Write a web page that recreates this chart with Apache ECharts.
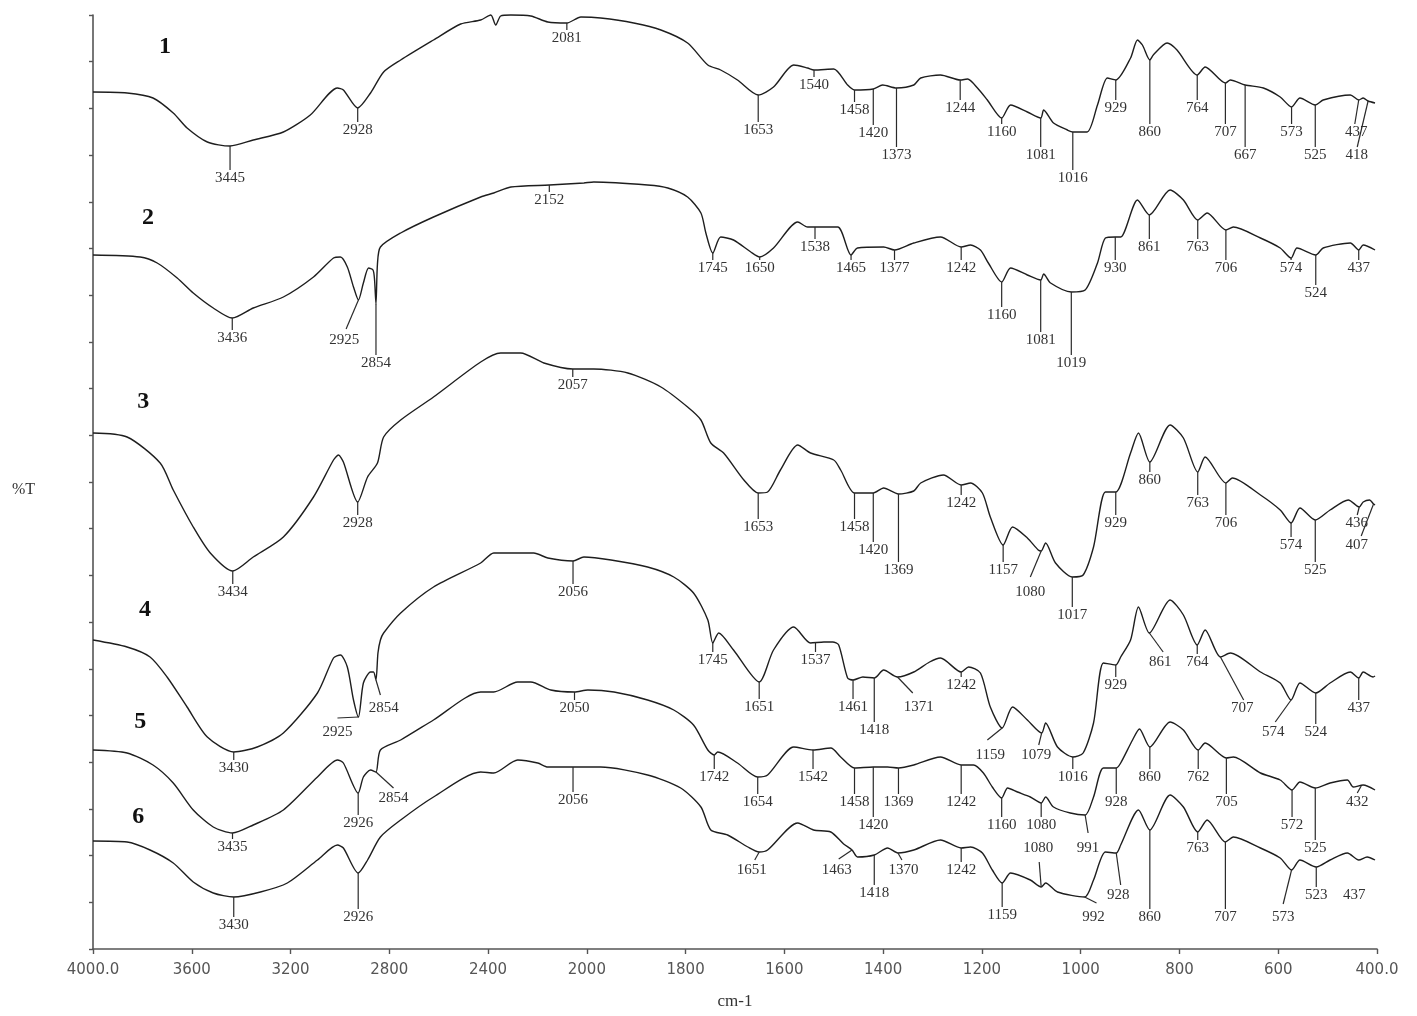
<!DOCTYPE html>
<html><head><meta charset="utf-8">
<script src="https://cdn.jsdelivr.net/npm/echarts@6/dist/echarts.min.js"></script>
<style>html,body{margin:0;padding:0;background:#fff}#c{width:1417px;height:1016px}</style>
</head><body><div id="c"></div>
<script>
// x tick labels (axis uses a scale change at 2000 cm-1)
const xTickLabels = ['4000.0','3600','3200','2800','2400','2000','1800','1600','1400','1200','1000','800','600','400.0'];
const traceNames = ['1','2','3','4','5','6'];
const nameAnchors = [[3708,90.2],[3777,73.1],[3797,54.7],[3789,33.9],[3809,22.7],[3817,13.2]];

// spectra: [wavenumber, %T (stacked, arbitrary offset)]
const trace1 = [[4000,85.7],[3862,85.6],[3757,85.1],[3675,83.6],[3619,82.1],[3537,80.7],[3445,80.3],[3351,80.9],[3229,81.7],[3120,83.4],[3010,86.1],[2986,85.9],[2928,84.1],[2876,85.6],[2823,87.7],[2754,88.9],[2621,90.9],[2511,92.5],[2430,92.9],[2389,93.4],[2369,92.4],[2349,93.3],[2308,93.4],[2227,93.3],[2158,92.7],[2081,92.6],[2024,93.2],[1972,93.1],[1905,92.6],[1850,91.9],[1796,90.6],[1755,88.4],[1729,87.9],[1695,86.9],[1653,85.4],[1622,86.2],[1581,88.4],[1553,88.1],[1540,87.9],[1500,88.0],[1472,86.4],[1458,85.9],[1420,86.0],[1401,86.4],[1373,86.1],[1338,86.4],[1324,87.1],[1284,87.4],[1244,86.9],[1229,87.0],[1209,86.1],[1189,84.9],[1160,83.1],[1142,84.4],[1108,83.7],[1081,83.1],[1075,83.9],[1055,82.6],[1027,81.9],[1016,81.7],[987,81.7],[966,84.4],[946,87.1],[929,86.9],[899,89.1],[885,90.9],[875,90.4],[860,88.9],[853,89.4],[825,90.6],[805,89.9],[764,87.4],[748,88.2],[707,86.6],[697,86.9],[667,86.4],[630,86.1],[596,85.2],[573,84.2],[556,85.1],[525,84.4],[509,84.9],[454,85.4],[437,84.9],[428,85.1],[418,84.8],[404,84.6]];
const trace2 = [[4000,69.4],[3809,69.2],[3740,68.6],[3659,67.1],[3594,65.6],[3513,64.1],[3436,63.1],[3351,64.1],[3229,65.2],[3107,67.2],[3026,69.1],[2998,69.2],[2970,68.2],[2945,66.2],[2925,64.9],[2905,66.6],[2884,68.1],[2866,67.9],[2860,67.0],[2854,64.5],[2848,68.5],[2836,70.2],[2754,71.6],[2621,73.2],[2430,75.2],[2377,75.6],[2308,76.2],[2152,76.4],[2012,76.6],[1986,76.7],[1877,76.4],[1836,76.1],[1796,75.2],[1769,73.6],[1759,71.6],[1745,69.6],[1729,71.2],[1703,70.9],[1668,69.7],[1650,69.2],[1622,70.1],[1573,72.7],[1553,72.2],[1538,72.2],[1492,72.2],[1465,69.4],[1452,70.1],[1399,70.2],[1377,69.9],[1338,70.6],[1284,71.2],[1242,70.2],[1223,70.4],[1203,69.9],[1187,68.6],[1160,66.7],[1142,68.1],[1108,67.4],[1081,66.9],[1075,67.5],[1061,66.6],[1019,65.7],[991,65.9],[966,68.6],[950,71.1],[930,71.2],[919,71.2],[885,74.9],[861,73.4],[819,75.9],[792,74.9],[763,72.9],[744,73.6],[706,71.9],[691,72.2],[636,71.1],[596,70.1],[574,69.1],[562,70.1],[524,69.4],[509,70.1],[454,70.6],[437,69.9],[428,70.4],[404,69.9]];
const trace3 = [[4000,51.6],[3862,51.2],[3728,48.6],[3675,45.9],[3594,42.2],[3525,39.6],[3434,37.8],[3351,39.2],[3229,41.2],[3107,45.2],[3026,48.9],[3006,49.4],[2986,48.7],[2928,44.7],[2888,47.2],[2848,48.6],[2823,51.2],[2754,52.9],[2621,55.2],[2430,58.7],[2349,59.6],[2268,59.6],[2174,58.6],[2057,58.0],[1986,58.0],[1917,57.6],[1850,56.2],[1796,54.2],[1769,52.9],[1749,50.6],[1723,49.6],[1682,46.9],[1653,45.6],[1634,45.7],[1608,47.9],[1573,50.4],[1547,49.6],[1500,48.9],[1486,47.9],[1458,45.6],[1420,45.6],[1399,46.1],[1369,45.5],[1338,45.8],[1324,46.6],[1278,47.4],[1242,46.4],[1223,46.6],[1199,45.6],[1183,43.2],[1157,40.4],[1138,42.2],[1108,41.1],[1086,39.9],[1080,39.8],[1071,40.6],[1051,38.6],[1017,37.2],[995,37.4],[974,40.2],[950,45.7],[929,45.7],[899,49.6],[883,51.6],[860,48.7],[819,52.4],[792,51.1],[763,47.7],[748,49.2],[706,46.6],[693,47.1],[636,45.4],[596,43.9],[574,42.6],[556,44.1],[525,42.9],[495,43.9],[458,44.9],[436,44.2],[428,44.7],[415,44.9],[407,44.5],[404,44.4]];
const trace4 = [[4000,30.9],[3862,30.2],[3769,29.2],[3700,27.2],[3619,24.2],[3537,21.2],[3430,19.7],[3335,20.2],[3229,21.6],[3091,25.6],[3026,29.1],[2998,29.4],[2970,28.2],[2945,24.9],[2925,23.2],[2905,26.6],[2876,27.7],[2864,27.7],[2854,26.9],[2846,29.6],[2836,30.9],[2823,31.6],[2754,33.6],[2621,36.2],[2430,38.6],[2377,39.6],[2215,39.6],[2158,39.1],[2056,38.8],[2012,39.2],[1951,38.9],[1877,38.2],[1824,37.2],[1784,35.6],[1755,32.9],[1745,30.6],[1733,31.6],[1703,29.9],[1651,26.7],[1622,29.9],[1581,32.2],[1547,30.6],[1520,30.7],[1502,30.7],[1490,30.4],[1472,27.1],[1461,26.9],[1441,27.2],[1418,27.1],[1399,27.9],[1371,27.2],[1338,27.7],[1306,28.7],[1284,29.1],[1242,27.7],[1227,28.2],[1203,27.6],[1183,24.2],[1159,22.1],[1138,24.2],[1108,22.9],[1079,21.6],[1071,22.6],[1047,20.2],[1016,19.2],[995,19.6],[974,22.6],[954,28.6],[929,28.4],[919,29.2],[899,30.9],[883,34.2],[861,31.6],[819,34.9],[792,33.4],[764,30.4],[748,31.9],[717,29.2],[697,29.6],[636,27.7],[596,26.6],[574,24.9],[556,26.6],[524,25.6],[495,26.6],[454,27.7],[437,27.1],[428,27.7],[408,27.2],[404,27.3]];
const trace5 = [[4000,19.9],[3862,19.6],[3757,18.4],[3675,16.6],[3594,13.9],[3513,12.2],[3435,11.6],[3351,12.4],[3229,13.9],[3091,17.2],[3010,18.9],[2986,18.6],[2926,15.6],[2905,17.2],[2876,17.9],[2854,17.7],[2836,19.9],[2754,20.9],[2621,22.9],[2430,25.7],[2377,25.7],[2280,26.7],[2227,26.7],[2146,25.9],[2050,25.7],[1998,25.9],[1945,25.7],[1877,24.9],[1824,23.9],[1784,22.4],[1755,19.9],[1742,19.4],[1735,19.7],[1695,18.6],[1654,17.2],[1634,17.4],[1581,20.2],[1542,19.9],[1506,20.1],[1486,19.2],[1458,18.1],[1420,18.2],[1391,18.2],[1369,18.1],[1338,18.4],[1284,19.2],[1242,18.4],[1217,18.4],[1197,17.6],[1179,16.2],[1160,15.1],[1148,16.1],[1128,15.7],[1102,15.2],[1080,14.6],[1071,15.2],[1055,14.2],[1021,13.6],[991,13.4],[974,15.2],[954,18.1],[928,18.1],[919,18.6],[895,20.9],[881,22.0],[860,20.2],[819,22.7],[792,21.9],[762,19.9],[748,20.6],[705,19.1],[691,19.2],[636,17.6],[596,16.9],[572,15.9],[556,16.7],[525,16.1],[495,16.6],[460,16.9],[448,16.2],[428,16.4],[404,15.9]];
const trace6 = [[4000,10.8],[3862,10.7],[3769,9.9],[3675,8.6],[3594,6.7],[3513,5.6],[3430,5.2],[3322,5.7],[3213,6.6],[3091,8.9],[3010,10.4],[2986,10.1],[2926,7.6],[2888,8.9],[2836,11.2],[2754,12.9],[2621,15.2],[2430,17.7],[2377,17.6],[2280,18.9],[2199,18.6],[2158,18.2],[2056,18.2],[1972,18.2],[1877,17.4],[1810,16.1],[1769,14.2],[1749,11.9],[1715,11.4],[1674,10.2],[1651,9.7],[1634,9.9],[1573,12.6],[1541,11.9],[1506,11.7],[1480,10.5],[1463,9.9],[1452,9.2],[1418,9.4],[1391,10.1],[1370,9.6],[1338,9.9],[1284,10.9],[1242,10.1],[1223,10.2],[1199,9.6],[1179,7.9],[1159,6.6],[1142,7.6],[1102,6.9],[1080,6.2],[1071,6.6],[1047,5.7],[992,5.2],[974,6.9],[950,9.7],[928,9.6],[919,10.4],[883,13.9],[860,11.9],[819,15.4],[792,14.2],[763,11.7],[744,12.9],[707,10.7],[691,11.2],[636,10.1],[596,9.1],[573,7.9],[556,8.9],[523,8.2],[495,8.9],[460,9.6],[437,8.9],[420,9.2],[404,8.9]];

// peak annotations: [text, wn, curveT, labelT]  or  [text, wn0, t0, wn1, t1, labelWn, labelT]
const peaks1 = [['3445',3445,80.3,77.1],['2928',2928,84.1,81.9],['2081',2081,92.6,91.1],['1653',1653,85.4,81.9],['1540',1540,87.9,86.4],['1458',1458,85.9,83.9],['1420',1420,86.0,81.6],['1373',1373,86.1,79.4],['1244',1244,86.9,84.1],['1160',1160,83.1,81.7],['1081',1081,83.1,79.4],['1016',1016,81.7,77.1],['929',929,86.9,84.1],['860',860,88.9,81.7],['764',764,87.4,84.1],['707',707,86.6,81.7],['667',667,86.4,79.4],['573',573,84.2,81.7],['525',525,84.4,79.4],['437',437,84.9,445,82.5,442,81.7],['418',418,84.8,440,80.2,441,79.4]];
const peaks2 = [['3436',3436,63.1,61.1],['2925',2925,64.9,2975,62.0,2982,60.9],['2854',2854,64.5,58.6],['2152',2152,76.4,74.9],['1745',1745,69.6,68.1],['1650',1650,69.2,68.1],['1538',1538,72.2,70.2],['1465',1465,69.4,68.1],['1377',1377,69.9,68.1],['1242',1242,70.2,68.1],['1160',1160,66.7,63.4],['1081',1081,66.9,60.9],['1019',1019,65.7,58.6],['930',930,71.2,68.1],['861',861,73.4,70.2],['763',763,72.9,70.2],['706',706,71.9,68.1],['574',574,69.1,68.1],['524',524,69.4,65.6],['437',437,69.9,68.1]];
const peaks3 = [['3434',3434,37.8,35.7],['2928',2928,44.7,42.6],['2057',2057,58.0,56.4],['1653',1653,45.6,42.2],['1458',1458,45.6,42.2],['1420',1420,45.6,39.9],['1369',1369,45.5,37.9],['1242',1242,46.4,44.6],['1157',1157,40.4,37.9],['1080',1080,39.8,1102,37.2,1102,35.7],['1017',1017,37.2,33.4],['929',929,45.7,42.6],['860',860,48.7,46.9],['763',763,47.7,44.6],['706',706,46.6,42.6],['574',574,42.6,40.4],['525',525,42.9,37.9],['436',436,44.2,440,43.4,441,42.6],['407',407,44.5,432,41.3,441,40.4]];
const peaks4 = [['3430',3430,19.7,18.1],['2925',2925,23.2,3010,23.1,3010,21.7],['2854',2854,26.9,2836,25.4,2823,24.1],['2056',2056,38.8,35.7],['1745',1745,30.6,28.9],['1651',1651,26.7,24.2],['1537',1537,30.7,28.9],['1461',1461,26.9,24.2],['1418',1418,27.1,21.9],['1371',1371,27.2,1340,25.6,1328,24.2],['1242',1242,27.7,26.4],['1159',1159,22.1,1189,20.9,1183,19.4],['1079',1079,21.6,1085,20.4,1090,19.4],['1016',1016,19.2,17.2],['929',929,28.4,26.4],['861',861,31.6,833,29.7,839,28.7],['764',764,30.4,28.7],['707',717,29.2,670,24.9,673,24.1],['574',574,24.9,606,22.7,610,21.7],['524',524,25.6,21.7],['437',437,27.1,24.1]];
const peaks5 = [['3435',3435,11.6,10.2],['2926',2926,15.6,12.6],['2854',2854,17.7,2783,16.1,2783,15.1],['2050',2050,25.7,24.1],['1742',1742,19.4,17.2],['1654',1654,17.2,14.7],['1542',1542,19.9,17.2],['1458',1458,18.1,14.7],['1420',1420,18.2,12.4],['1369',1369,18.1,14.7],['1242',1242,18.4,14.7],['1160',1160,15.1,12.4],['1080',1080,14.6,12.4],['991',991,13.4,985,11.6,985,10.1],['928',928,18.1,14.7],['860',860,20.2,17.2],['762',762,19.9,17.2],['705',705,19.1,14.7],['572',572,15.9,12.4],['525',525,16.1,10.1],['432',432,16.3,440,15.6,440,14.7]];
const peaks6 = [['3430',3430,5.2,2.4],['2926',2926,7.6,3.2],['2056',2056,18.2,14.9],['1651',1651,9.7,1660,8.9,1666,7.9],['1463',1463,9.9,1490,9.0,1494,7.9],['1418',1418,9.4,5.6],['1370',1370,9.6,1362,8.9,1359,7.9],['1242',1242,10.1,7.9],['1159',1159,6.6,3.4],['1080',1080,6.2,1084,8.7,1086,10.1],['992',992,5.2,968,4.6,974,3.2],['928',928,9.6,919,6.4,924,5.4],['860',860,11.9,3.2],['763',763,11.7,10.1],['707',707,10.7,3.2],['573',573,7.9,590,4.5,590,3.2],['523',523,8.2,5.4],['437',446,6.4,446,6.4,446,5.4]];

// piecewise wavenumber scale: 400 cm-1 per division above 2000, 200 below
function pos(wn){ return wn >= 2000 ? (4000 - wn) / 400 : 5 + (2000 - wn) / 200; }

const traces = [trace1, trace2, trace3, trace4, trace5, trace6];
const peaks = [].concat(peaks1, peaks2, peaks3, peaks4, peaks5, peaks6).map(function(a){
  if (a.length === 4) {
    const t1 = a[3] + 0.8;
    return {t:a[0], x0:a[1], y0:a[2], x1:a[1], y1:t1, tx:a[1], ty:a[3], line: t1 < a[2]};
  }
  return {t:a[0], x0:a[1], y0:a[2], x1:a[3], y1:a[4], tx:a[5], ty:a[6], line: !(a[1]===a[3] && a[2]===a[4])};
});

const LINE = '#1e1e1e';
const series = traces.map(function(tr, i){
  return {
    type:'line', name: traceNames[i], data: tr.map(function(p){ return [pos(p[0]), p[1]]; }),
    symbol:'none', clip:false, animation:false, silent:true,
    smooth:0.25,
    lineStyle:{color: LINE, width: 1.4}
  };
});

series.push({
  type:'custom', animation:false, silent:true, clip:false, z:5,
  data: peaks.map(function(a){ return [pos(a.tx), a.ty]; }),
  renderItem: function(params, api){
    const a = peaks[params.dataIndex];
    const children = [];
    if (a.line) {
      const p0 = api.coord([pos(a.x0), a.y0]);
      const p1 = api.coord([pos(a.x1), a.y1]);
      children.push({type:'line', shape:{x1:p0[0], y1:p0[1], x2:p1[0], y2:p1[1]}, style:{stroke:'#2a2a2a', lineWidth:1.2}});
    }
    const pt = api.coord([pos(a.tx), a.ty]);
    children.push({type:'text', x: pt[0], y: pt[1], style:{text:a.t, align:'center', verticalAlign:'middle', fill:'#333', fontSize:15, fontFamily:'"Liberation Serif", serif'}});
    return {type:'group', children: children};
  }
});

series.push({
  type:'custom', animation:false, silent:true, clip:false, z:5,
  data: nameAnchors.map(function(p){ return [pos(p[0]), p[1]]; }),
  renderItem: function(params, api){
    const p = nameAnchors[params.dataIndex];
    const pt = api.coord([pos(p[0]), p[1]]);
    return {type:'text', x: pt[0], y: pt[1], style:{text: traceNames[params.dataIndex], align:'center', verticalAlign:'middle', fill:'#111', fontSize:24, fontWeight:'bold', fontFamily:'"Liberation Serif", serif'}};
  }
});

const chart = echarts.init(document.getElementById('c'), null, {renderer:'canvas'});
chart.setOption({
  backgroundColor:'#ffffff',
  animation:false,
  grid:{left:93, right:40, top:15, bottom:67, containLabel:false},
  xAxis:{
    type:'value', min:0, max:13, interval:1,
    name:'cm-1', nameLocation:'middle', nameGap:44,
    nameTextStyle:{fontFamily:'"Liberation Serif", serif', fontSize:17, color:'#333'},
    axisLine:{show:true, lineStyle:{color:'#555', width:1.6}},
    axisTick:{show:true, inside:false, length:5, lineStyle:{color:'#555', width:1.4}},
    axisLabel:{show:true, margin:14, color:'#555', fontSize:15, fontFamily:'"DejaVu Sans", sans-serif',
      showMinLabel:true, showMaxLabel:true,
      formatter:function(v){ return xTickLabels[Math.round(v)] || ''; }},
    splitLine:{show:false}
  },
  yAxis:{
    type:'value', min:0, max:93.4, interval:4.67,
    name:'%T', nameLocation:'middle', nameGap:58, nameRotate:0,
    nameTextStyle:{fontFamily:'"Liberation Serif", serif', fontSize:16, color:'#333', verticalAlign:'top'},
    axisLine:{show:true, lineStyle:{color:'#555', width:1.6}},
    axisTick:{show:true, inside:false, length:4, lineStyle:{color:'#555', width:1.4}},
    axisLabel:{show:false},
    splitLine:{show:false}
  },
  series: series
});
</script>
</body></html>
